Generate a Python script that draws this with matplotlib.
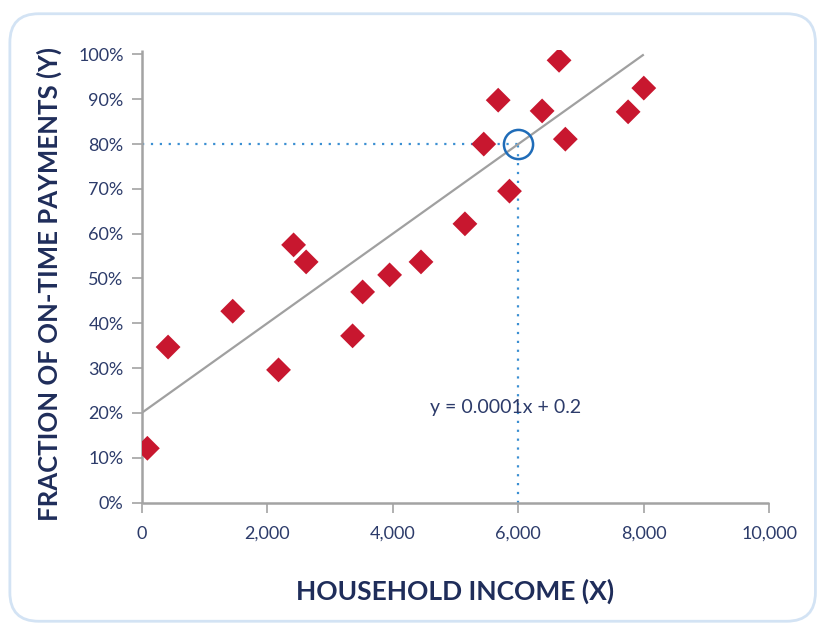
import matplotlib
matplotlib.use("Agg")
import matplotlib.pyplot as plt
import matplotlib.ticker as mticker
from matplotlib.patches import FancyBboxPatch

# household income (X) and fraction of on-time payments (Y)
income = [90, 420, 1450, 2180, 2420, 2620, 3360, 3520, 3950, 4450,
          5150, 5450, 5680, 5860, 6380, 6650, 6750, 7750, 8000]
on_time = [0.121, 0.347, 0.427, 0.296, 0.575, 0.537, 0.372, 0.470, 0.508, 0.537,
           0.622, 0.800, 0.898, 0.695, 0.874, 0.987, 0.811, 0.872, 0.925]

fit_x = [0, 8000]
fit_slope = 0.0001
fit_intercept = 0.2
highlight_x = 6000
highlight_y = 0.8

x_ticks = [0, 2000, 4000, 6000, 8000, 10000]
y_ticks = [i / 10 for i in range(11)]

navy = '#1f2d5a'
tick_col = '#2c3b6a'
grey = '#a3a3a3'

plt.rcParams['font.family'] = ['Lato', 'DejaVu Sans']

fig = plt.figure(figsize=(8.22, 6.25), dpi=100)
ax = fig.add_axes([0.1724, 0.196, 0.7635, 0.724])

# rounded frame round the whole chart
frame = FancyBboxPatch((0.012, 0.006), 0.98, 0.972,
                       boxstyle='round,pad=0,rounding_size=0.035',
                       transform=fig.transFigure, facecolor='white',
                       edgecolor='#d3e3f4', linewidth=2.0, zorder=-10,
                       mutation_aspect=822 / 625)
fig.patches.append(frame)
ax.patch.set_alpha(0)

fit_y = [fit_slope * v + fit_intercept for v in fit_x]
ax.plot(fit_x, fit_y, color='#a0a0a0', lw=1.6, zorder=2, solid_capstyle='butt')

ax.plot([0, highlight_x], [highlight_y, highlight_y], color='#3b8fd2',
        lw=1.6, ls=(0, (1, 3)), zorder=1)
ax.plot([highlight_x, highlight_x], [0, highlight_y], color='#3b8fd2',
        lw=1.6, ls=(0, (1, 3)), zorder=1)

ax.scatter(income, on_time, marker='D', s=160, color='#c8172f',
           edgecolor='none', zorder=3)

ax.plot([highlight_x], [highlight_y], marker='o', ms=21, mfc='none',
        mec='#1f6cb8', mew=1.8, zorder=4)

ax.text(4590, 0.212, 'y = 0.0001x + 0.2', fontsize=14, color=tick_col,
        ha='left', va='center')

ax.set_xlim(0, 10000)
ax.set_ylim(0, 1.01)
ax.set_xticks(x_ticks)
ax.set_yticks(y_ticks)
ax.xaxis.set_major_formatter(mticker.StrMethodFormatter('{x:,.0f}'))
ax.yaxis.set_major_formatter(mticker.PercentFormatter(1.0, decimals=0))

for side in ('top', 'right'):
    ax.spines[side].set_visible(False)
for side in ('left', 'bottom'):
    ax.spines[side].set_color(grey)
    ax.spines[side].set_linewidth(1.8)
    ax.spines[side].set_capstyle('butt')

ax.tick_params(axis='both', colors=grey, width=1.2, length=7,
               labelcolor=tick_col, labelsize=13)
ax.tick_params(axis='x', pad=10)
ax.tick_params(axis='y', pad=6)

ax.set_xlabel('HOUSEHOLD INCOME (X)', fontsize=19, fontweight='bold',
              color=navy, labelpad=26)
ax.set_ylabel('FRACTION OF ON-TIME PAYMENTS (Y)', fontsize=18.5,
              fontweight='bold', color=navy)
ax.yaxis.set_label_coords(-0.127, 0.483)

fig.savefig('out.png', dpi=100)
